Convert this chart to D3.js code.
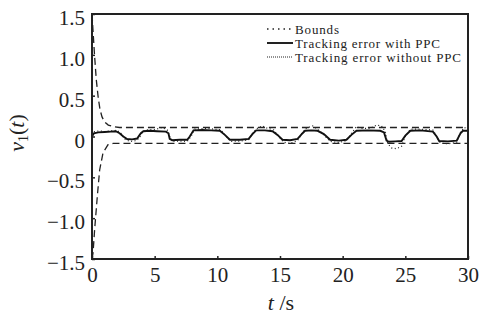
<!DOCTYPE html>
<html lang="en">
<head>
<meta charset="utf-8">
<title>v1(t)</title>
<style>
  html, body { margin: 0; background: #fff; }
  svg { display: block; }
  text { font-family: "Liberation Serif", "DejaVu Serif", serif; fill: #222; }
</style>
<script src="https://d3js.org/d3.v7.min.js"></script>
</head>
<body>
<svg id="chart" width="481" height="320"></svg>
<script>
// values: [t, value]
const upperBound = [[0,1.5],[0.1,1.25],[0.2,1.0],[0.34,0.7],[0.5,0.47],[0.64,0.33],[0.8,0.24],[1.0,0.18],[1.3,0.14],[1.7,0.12],[2.2,0.11],[30,0.11]];
const lowerBound = [[0,-1.5],[0.08,-1.43],[0.21,-1.14],[0.42,-0.74],[0.61,-0.41],[0.88,-0.2],[1.28,-0.1],[1.68,-0.085],[30,-0.085]];

const withPPC = [[0,0.0],[0.15,0.04],[0.5,0.05],[1.0,0.055],[1.5,0.06],[1.9,0.065],[2.2,0.04],[2.5,0.0],[2.8,-0.03],[3.2,-0.035],[3.6,-0.025],[3.9,0.04],[4.1,0.065],[4.6,0.07],[5.2,0.065],[5.9,0.06],[6.1,0.04],[6.2,-0.03],[6.4,-0.045],[7.0,-0.04],[7.6,-0.04],[7.8,0.0],[8.1,0.075],[8.8,0.08],[9.5,0.075],[10.2,0.07],[10.6,0.02],[11.0,-0.04],[11.8,-0.04],[12.5,-0.03],[12.8,0.03],[13.1,0.075],[13.8,0.075],[14.4,0.065],[14.8,0.02],[15.2,-0.04],[15.8,-0.045],[16.4,-0.03],[16.8,0.04],[17.0,0.07],[17.5,0.075],[18.0,0.07],[18.5,0.03],[19.0,-0.04],[19.7,-0.05],[20.3,-0.04],[20.7,0.02],[21.1,0.07],[22.0,0.075],[23.0,0.07],[23.3,0.05],[23.5,-0.05],[23.7,-0.065],[24.2,-0.06],[24.7,-0.055],[25.0,0.01],[25.4,0.07],[26.2,0.075],[27.2,0.06],[27.5,0.0],[27.7,-0.055],[28.4,-0.06],[29.1,-0.05],[29.4,0.04],[29.6,0.07],[30,0.07]];

const withoutPPC = [[0,0.02],[0.2,0.06],[0.6,0.07],[1.0,0.06],[1.5,0.07],[2.0,0.075],[2.3,0.04],[2.6,-0.03],[3.0,-0.06],[3.4,-0.055],[3.8,-0.02],[4.0,0.05],[4.3,0.08],[5.0,0.085],[5.6,0.11],[6.0,0.08],[6.2,0.0],[6.4,-0.06],[7.0,-0.055],[7.6,-0.06],[7.9,0.0],[8.2,0.09],[9.0,0.1],[9.8,0.09],[10.3,0.08],[10.7,0.0],[11.1,-0.06],[11.9,-0.055],[12.5,-0.04],[12.8,0.04],[13.2,0.1],[13.6,0.13],[14.0,0.1],[14.5,0.08],[14.9,0.0],[15.3,-0.07],[15.8,-0.085],[16.4,-0.05],[16.8,0.05],[17.1,0.1],[17.6,0.13],[18.0,0.09],[18.5,0.02],[19.0,-0.06],[19.7,-0.075],[20.3,-0.05],[20.7,0.04],[21.1,0.12],[21.5,0.1],[22.2,0.1],[22.7,0.14],[23.1,0.13],[23.4,0.06],[23.6,-0.09],[23.9,-0.14],[24.3,-0.15],[24.7,-0.12],[25.0,0.0],[25.4,0.09],[26.2,0.09],[27.2,0.08],[27.5,0.0],[27.8,-0.08],[28.4,-0.09],[29.1,-0.07],[29.4,0.05],[29.7,0.11],[30,0.09]];

const xTicks = [0, 5, 10, 15, 20, 25, 30];
const yTicks = [-1.5, -1.0, -0.5, 0, 0.5, 1.0, 1.5];
const legendNames = ["Bounds", "Tracking error with PPC", "Tracking error without PPC"];

const svg = d3.select("#chart");
const x = d3.scaleLinear().domain([0, 30]).range([92, 468]);
const y = d3.scaleLinear().domain([-1.5, 1.5]).range([259, 14]);

const line = d3.line().x(d => x(d[0])).y(d => y(d[1]));

// curves
const plot = svg.append("g");
plot.append("path").datum(withoutPPC).attr("d", line)
  .attr("fill", "none").attr("stroke", "#222").attr("stroke-width", 1.2)
  .attr("stroke-dasharray", "1,2.5");
plot.append("path").datum(withPPC).attr("d", line)
  .attr("fill", "none").attr("stroke", "#111").attr("stroke-width", 1.9);
[upperBound, lowerBound].forEach(b => {
  plot.append("path").datum(b).attr("d", line)
    .attr("fill", "none").attr("stroke", "#222").attr("stroke-width", 1.3)
    .attr("stroke-dasharray", "7,4");
});

// axes (inward ticks)
const fmt = d => d === 0 ? "0" : d3.format(".1f")(d);
const yAxis = svg.append("g").attr("transform", `translate(${x(0)},0)`)
  .call(d3.axisLeft(y).tickValues(yTicks).tickFormat(fmt).tickSizeInner(-3).tickSizeOuter(0).tickPadding(7));
const xAxis = svg.append("g").attr("transform", `translate(0,${y(-1.5)})`)
  .call(d3.axisBottom(x).tickValues(xTicks).tickSizeInner(-3).tickSizeOuter(0).tickPadding(8));
[yAxis, xAxis].forEach(a => {
  a.select(".domain").remove();
  a.selectAll("line").attr("stroke", "#222").attr("stroke-width", 1.5);
  a.selectAll("text").attr("font-size", 21).attr("fill", "#222")
    .style("font-family", '"Liberation Serif", serif');
});
yAxis.selectAll("text").attr("dy", "0.5em");
xAxis.selectAll("text").attr("dy", "0.7em");

// frame
svg.append("rect")
  .attr("x", x(0)).attr("y", y(1.5))
  .attr("width", x(30) - x(0)).attr("height", y(-1.5) - y(1.5))
  .attr("fill", "none").attr("stroke", "#222").attr("stroke-width", 2);

// axis titles
const yl = svg.append("text").attr("transform", "translate(24,133) rotate(-90)")
  .attr("text-anchor", "middle").attr("font-size", 22);
yl.append("tspan").attr("font-style", "italic").text("v");
yl.append("tspan").attr("font-size", 14).attr("dy", 4).text("1");
yl.append("tspan").attr("dy", -4).text("(");
yl.append("tspan").attr("font-style", "italic").text("t");
yl.append("tspan").text(")");

const xl = svg.append("text").attr("x", 281).attr("y", 310)
  .attr("text-anchor", "middle").attr("font-size", 22);
xl.append("tspan").attr("font-style", "italic").text("t");
xl.append("tspan").text(" /s");

// legend
const legendStyles = [
  { dash: "1.5,4", width: 1.6 },
  { dash: null, width: 2 },
  { dash: "1,1", width: 1 }
];
const legendWidths = [44, 145, 166];
const lg = svg.append("g");
legendNames.forEach((name, i) => {
  const ly = 29 + i * 14;
  lg.append("line").attr("x1", 267).attr("x2", 293).attr("y1", ly).attr("y2", ly)
    .attr("stroke", "#222").attr("stroke-width", legendStyles[i].width)
    .attr("stroke-dasharray", legendStyles[i].dash);
  lg.append("text").attr("x", 295).attr("y", ly + 4.5).attr("font-size", 13)
    .attr("textLength", legendWidths[i]).attr("lengthAdjust", "spacing")
    .text(name);
});
</script>
</body>
</html>
